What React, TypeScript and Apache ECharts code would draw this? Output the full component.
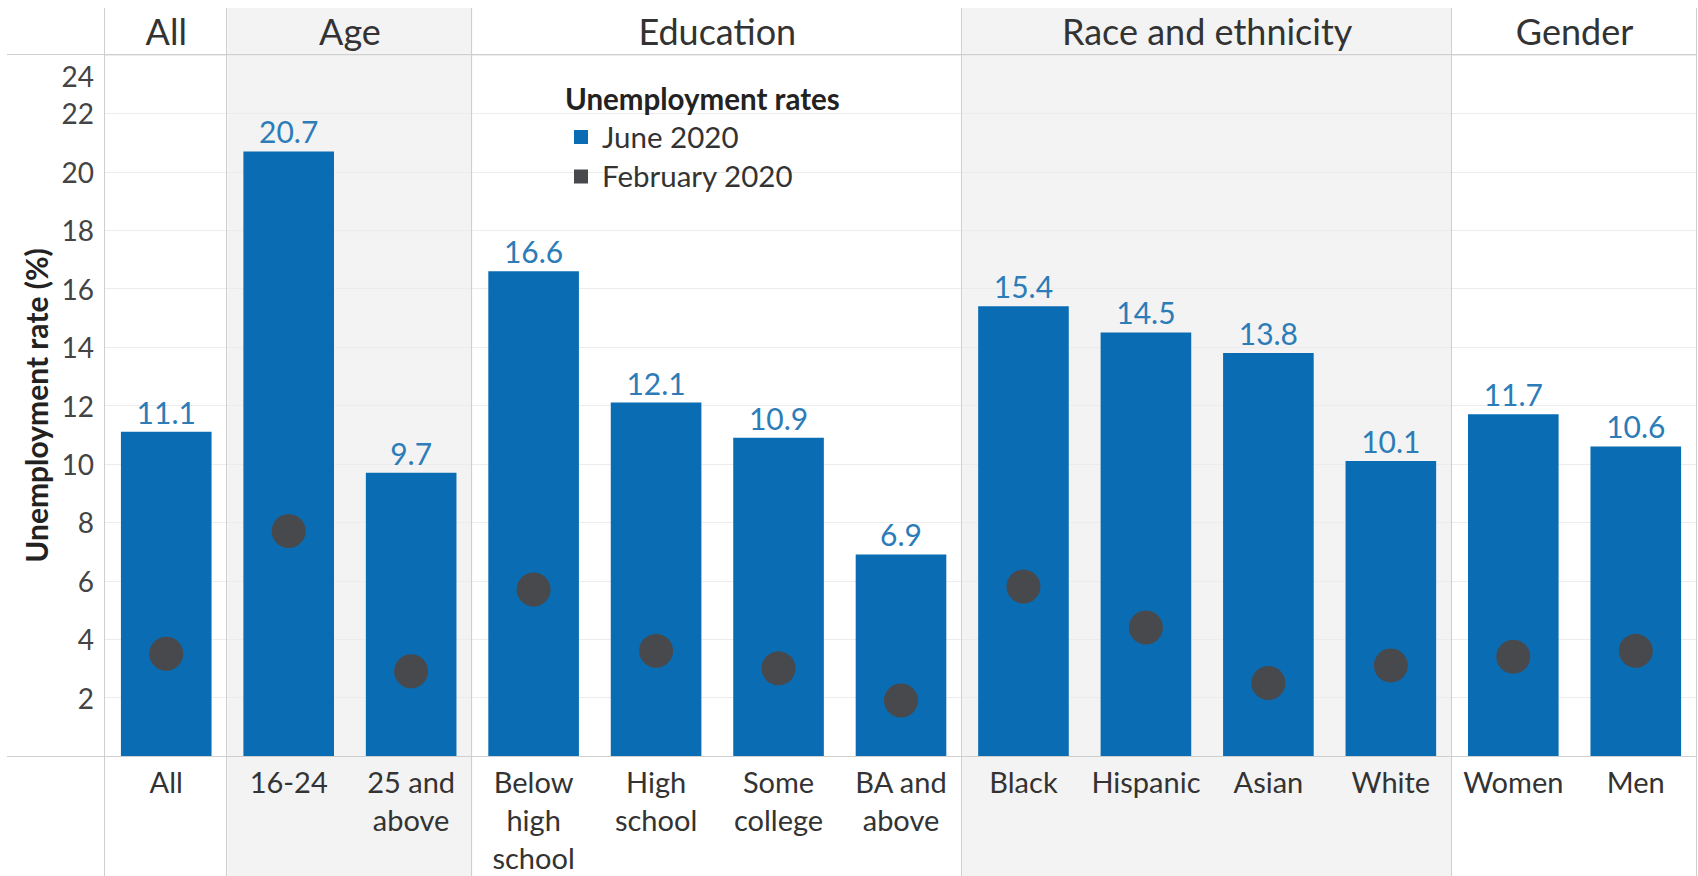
import React, { useEffect, useRef } from "react";
import * as echarts from "echarts";

const categories = [
  "All",
  "16-24",
  "25 and\nabove",
  "Below\nhigh\nschool",
  "High\nschool",
  "Some\ncollege",
  "BA and\nabove",
  "Black",
  "Hispanic",
  "Asian",
  "White",
  "Women",
  "Men",
];
const june2020 = [11.1, 20.7, 9.7, 16.6, 12.1, 10.9, 6.9, 15.4, 14.5, 13.8, 10.1, 11.7, 10.6];
const feb2020 = [3.5, 7.7, 2.9, 5.7, 3.6, 3.0, 1.9, 5.8, 4.4, 2.5, 3.1, 3.4, 3.6];
const groupNames = ["All", "Age", "Education", "Race and ethnicity", "Gender"];
const groupSizes = [1, 2, 4, 4, 2];
const groupShaded = [false, true, false, true, false];
const seriesNames = ["June 2020", "February 2020"];
const legendTitle = "Unemployment rates";
const yAxisTitle = "Unemployment rate (%)";

const W = 1698;
const H = 876;
const FONT = "Lato, 'Noto Sans', sans-serif";
const BAR_COLOR = "#0a6db3";
const DOT_COLOR = "#48494d";
const LABEL_COLOR = "#2c7cb8";
const TEXT = "#333333";
const seriesColors = [BAR_COLOR, DOT_COLOR];

export default function App() {
  const ref = useRef<HTMLDivElement>(null);

  useEffect(() => {
    if (!ref.current) return;
    const chart = echarts.init(ref.current, undefined, { renderer: "svg", width: W, height: H });
    const option: any = {
      animation: false,
      backgroundColor: "#ffffff",
      textStyle: { fontFamily: FONT },
      title: {
        text: legendTitle,
        left: 565,
        top: 81,
        padding: 0,
        textStyle: { fontSize: 29.5, fontWeight: "bold", color: "#222", fontFamily: FONT, lineHeight: 34 },
      },
      grid: { left: 105, right: 1, top: 55, bottom: 119, containLabel: false },
      xAxis: {
        type: "category",
        data: categories,
        axisTick: { show: false },
        axisLine: { show: false },
        axisLabel: { interval: 0, margin: 6, fontSize: 29, lineHeight: 38, color: TEXT, fontFamily: FONT },
      },
      yAxis: {
        type: "value",
        min: 0,
        max: 24,
        interval: 2,
        name: yAxisTitle,
        nameLocation: "middle",
        nameGap: 53,
        nameTextStyle: { fontSize: 30, fontWeight: "bold", color: "#222", fontFamily: FONT },
        axisLine: { show: false },
        axisTick: { show: false },
        splitLine: { lineStyle: { color: "#ececec", width: 1 } },
        axisLabel: {
          margin: 11,
          fontSize: 28,
          color: "#444",
          fontFamily: FONT,
          formatter: (v: number) => (v === 0 ? "" : v === 24 ? "{top|24}" : String(v)),
          rich: { top: { padding: [42, 0, 0, 0], fontSize: 28, color: "#444", fontFamily: FONT } },
        },
      },
      series: [
        {
          name: seriesNames[0],
          type: "bar",
          data: june2020,
          barCategoryGap: "26%",
          itemStyle: { color: BAR_COLOR },
          label: {
            show: true,
            position: "top",
            distance: 5,
            fontSize: 30,
            color: LABEL_COLOR,
            fontFamily: FONT,
            formatter: (p: any) => Number(p.value).toFixed(1),
          },
          z: 2,
        },
        {
          name: seriesNames[1],
          type: "scatter",
          data: feb2020,
          symbol: "circle",
          symbolSize: 34,
          itemStyle: { color: DOT_COLOR, opacity: 1 },
          z: 3,
        },
      ],
    };
    chart.setOption(option);

    // Panel decorations derived from the axis scales
    const c0 = chart.convertToPixel({ xAxisIndex: 0 }, 0) as number;
    const c1 = chart.convertToPixel({ xAxisIndex: 0 }, 1) as number;
    const slot = c1 - c0;
    const start = c0 - slot / 2;
    const base = Math.round(chart.convertToPixel({ yAxisIndex: 0 }, 0) as number) + 0.5;
    const headerTop = 8;
    const headerBottom = 54.5;
    const lineColor = "#cfcfcf";
    const elements: any[] = [];
    let acc = 0;
    const bounds: number[] = [start];
    groupNames.forEach((g, i) => {
      const x0 = start + acc * slot;
      const x1 = x0 + groupSizes[i] * slot;
      acc += groupSizes[i];
      bounds.push(x1);
      if (groupShaded[i]) {
        elements.push({
          type: "rect",
          z: -10,
          silent: true,
          shape: { x: x0, y: headerTop, width: x1 - x0, height: H - headerTop },
          style: { fill: "#f3f3f3" },
        });
      }
      elements.push({
        type: "text",
        z: 10,
        silent: true,
        x: (x0 + x1) / 2,
        y: 31,
        style: {
          text: g,
          fontSize: 36,
          fontFamily: FONT,
          fill: TEXT,
          align: "center",
          verticalAlign: "middle",
        },
      });
    });
    const endX = bounds[bounds.length - 1];
    bounds.forEach((b) => {
      const x = Math.round(b) - 0.5;
      elements.push({
        type: "line",
        z: 10,
        silent: true,
        shape: { x1: x, y1: headerTop, x2: x, y2: H },
        style: { stroke: lineColor, lineWidth: 1 },
      });
    });
    elements.push({
      type: "line",
      z: 10,
      silent: true,
      shape: { x1: 7, y1: headerBottom, x2: endX, y2: headerBottom },
      style: { stroke: lineColor, lineWidth: 1 },
    });
    elements.push({
      type: "line",
      z: 10,
      silent: true,
      shape: { x1: 7, y1: base, x2: endX, y2: base },
      style: { stroke: lineColor, lineWidth: 1 },
    });

    // Legend (square swatches) under the legend title
    const legendX = 574;
    const legendY0 = 136;
    const legendStep = 39.5;
    seriesNames.forEach((n, i) => {
      const cy = legendY0 + i * legendStep;
      elements.push({
        type: "rect",
        z: 10,
        silent: true,
        shape: { x: legendX, y: cy - 6, width: 14, height: 14 },
        style: { fill: seriesColors[i] },
      });
      elements.push({
        type: "text",
        z: 10,
        silent: true,
        x: legendX + 28,
        y: cy,
        style: {
          text: n,
          fontSize: 29.5,
          fontFamily: FONT,
          fill: TEXT,
          align: "left",
          verticalAlign: "middle",
        },
      });
    });
    chart.setOption({ graphic: { elements } });

    return () => chart.dispose();
  }, []);

  return (
    <div
      ref={ref}
      style={{ position: "fixed", left: 0, top: 0, width: W, height: H, background: "#fff" }}
    />
  );
}
